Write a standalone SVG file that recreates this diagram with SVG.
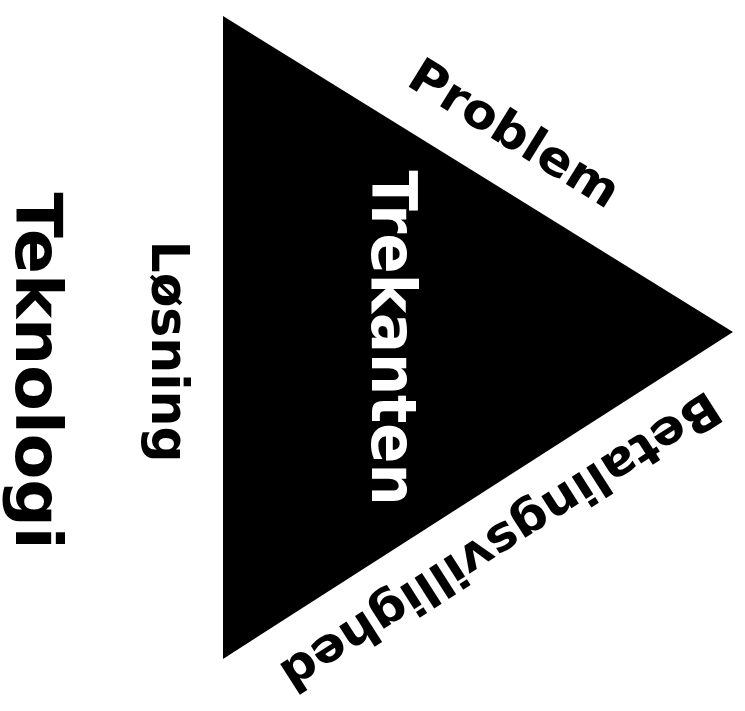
<svg xmlns="http://www.w3.org/2000/svg" width="745" height="711" viewBox="0 0 745 711">
<style>
.t{font-family:"DejaVu Sans","Verdana",sans-serif;font-weight:bold;text-anchor:middle;fill:#000}
.w{fill:#fff}
</style>
<rect width="745" height="711" fill="#fff"/>
<g id="triangle">
<polygon points="223,16 733,332 223,659" fill="#000"/>
<text class="t w" font-size="62" transform="translate(372,338) rotate(90)" textLength="335" lengthAdjust="spacingAndGlyphs">Trekanten</text>
</g>
<g id="problem">
<text class="t" font-size="48" transform="translate(506,147) rotate(31.8)" textLength="238" lengthAdjust="spacingAndGlyphs">Problem</text>
</g>
<g id="betalingsvillighed">
<text class="t" font-size="48" transform="translate(492,528) rotate(147.3)" textLength="512" lengthAdjust="spacingAndGlyphs">Betalingsvillighed</text>
</g>
<g id="losning">
<text class="t" font-size="51" transform="translate(152,351.5) rotate(90)" textLength="222" lengthAdjust="spacingAndGlyphs">Løsning</text>
</g>
<g id="teknologi">
<text class="t" font-size="64" transform="translate(16,371) rotate(90)" textLength="357" lengthAdjust="spacingAndGlyphs">Teknologi</text>
</g>
<g id="connectors"></g>
</svg>
